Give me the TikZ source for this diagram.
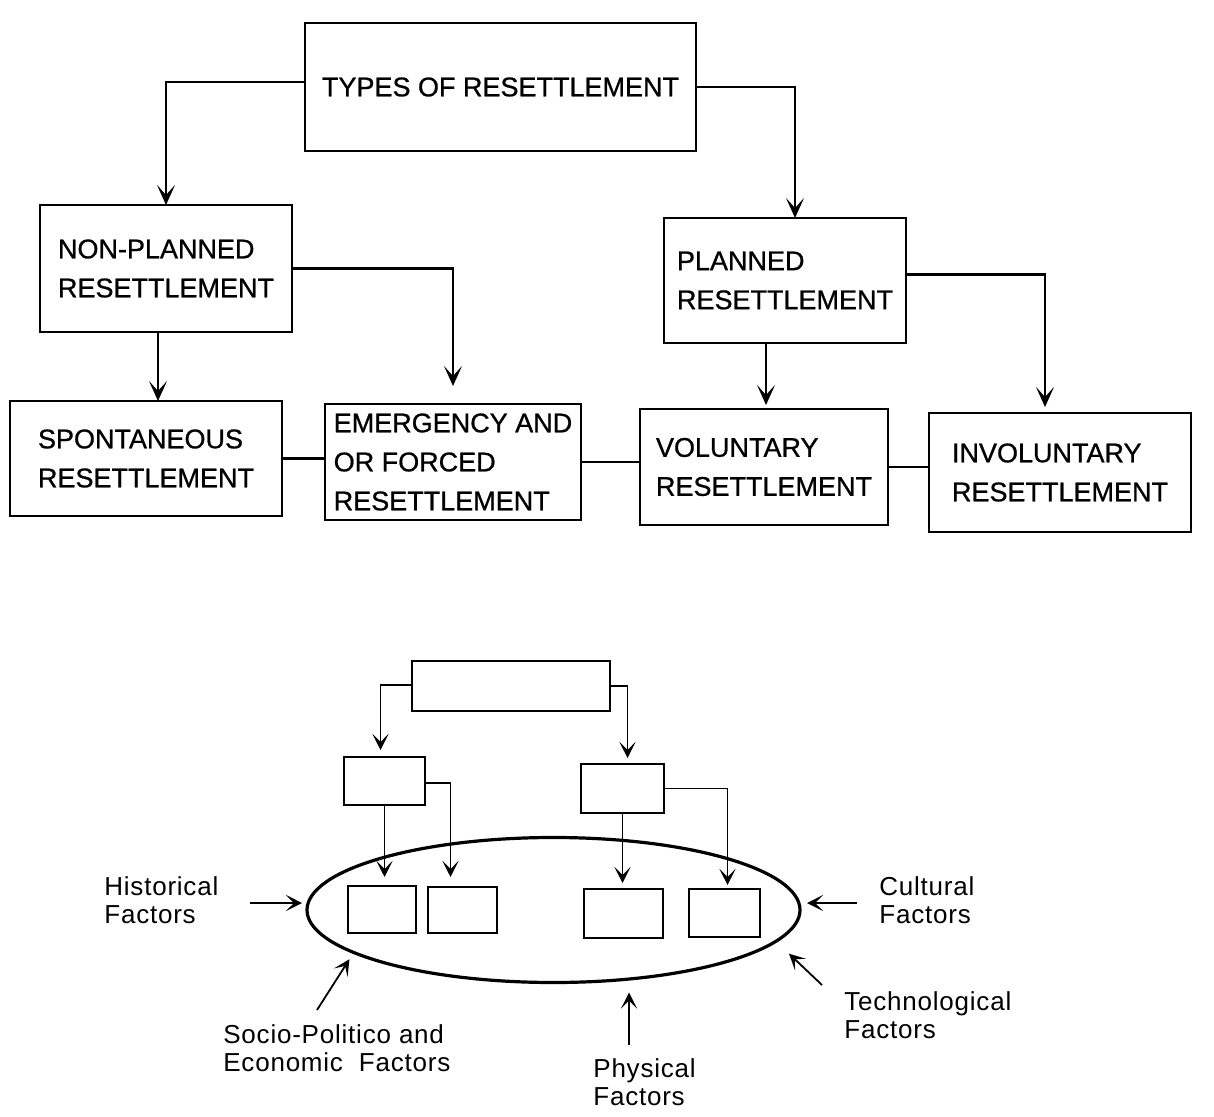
\documentclass[tikz,border=0pt]{standalone}
\usepackage{fontspec}
\usepackage{tikz}
\usetikzlibrary{arrows.meta,shapes.geometric,positioning}
\newfontfamily\capsfont[FakeBold=0.8]{Liberation Sans}
\newfontfamily\labelfont[LetterSpace=3]{Liberation Sans}

\tikzset{
  box/.style={draw,line width=1.2pt,inner sep=0pt,outer sep=0pt,align=left,
    font=\capsfont\fontsize{13.5pt}{19.5pt}\selectfont},
  blank/.style={draw,line width=1pt,inner sep=0pt,outer sep=0pt},
  factor/.style={inner sep=0pt,anchor=base west,align=left,
    font=\labelfont\fontsize{13pt}{14pt}\selectfont},
  arr/.style={line width=1.1pt,-{Stealth[length=10pt,width=9pt,inset=5pt]}},
  sarr/.style={line width=0.9pt,-{Stealth[length=8pt,width=8pt,inset=4pt]}}
}

\begin{document}
\begin{tikzpicture}[x=0.5pt,y=-0.5pt]
    \useasboundingbox (0,0) rectangle (1214,1117);
    % types of resettlement
    \node[box,minimum width=195.5pt,minimum height=64pt] (types)   at (500.5,87)  {TYPES OF RESETTLEMENT};
    \node[box,minimum width=126pt,minimum height=63.5pt] (nonplan) at (166,268.5) {NON-PLANNED\\RESETTLEMENT};
    \node[box,minimum width=121pt,minimum height=62.5pt] (plan)    at (785,280.5) {PLANNED\\RESETTLEMENT};
    \node[box,minimum width=136pt,minimum height=57.5pt] (spont)   at (146,458.5) {SPONTANEOUS\\RESETTLEMENT};
    \node[box,minimum width=128pt,minimum height=58pt]   (emerg)   at (453,462)   {EMERGENCY AND\\OR FORCED\\RESETTLEMENT};
    \node[box,minimum width=124pt,minimum height=58pt]   (volun)   at (764,467)   {VOLUNTARY\\RESETTLEMENT};
    \node[box,minimum width=131pt,minimum height=59.5pt] (invol)   at (1060,472.5){INVOLUNTARY\\RESETTLEMENT};

    \draw[arr] ([yshift=2.5pt]types.west) -| (nonplan.north);
    \draw[arr] (types.east) -| ([xshift=5pt]plan.north);
    \draw[arr,shorten >=9pt] (nonplan.east) -| (emerg.north);
    \draw[arr] ([xshift=-4pt]nonplan.south) -- ([xshift=-4pt]nonplan.south |- spont.north);
    \draw[arr,shorten >=2pt] ([xshift=-9.5pt]plan.south) -- ([xshift=-9.5pt]plan.south |- volun.north);
    \draw[arr,shorten >=3pt] ([yshift=3pt]plan.east) -| ([xshift=-7.5pt]invol.north);
    \draw[line width=1.2pt] (spont.east) -- (spont.east -| emerg.west);
    \draw[line width=1.2pt] (emerg.east) -- (emerg.east -| volun.west);
    \draw[line width=1.2pt] (volun.east) -- (volun.east -| invol.west);

    % factors model
    \node[blank,minimum width=99pt,minimum height=25pt]     (hub)  at (511,686)     {};
    \node[blank,minimum width=40.5pt,minimum height=24pt]   (b_1)  at (384.5,781)   {};
    \node[blank,minimum width=41.5pt,minimum height=24.5pt] (b_2)  at (622.5,788.5) {};
    \node[ellipse,draw,line width=1.6pt,inner sep=0pt,outer sep=0pt,
          minimum width=246.5pt,minimum height=72.5pt]       (ell)  at (553.5,910)   {};
    \node[blank,minimum width=34pt,minimum height=23.5pt]   (c_1)  at (382,909.5)   {};
    \node[blank,minimum width=34.5pt,minimum height=23pt]   (c_2)  at (462.5,910)   {};
    \node[blank,minimum width=39.5pt,minimum height=24.5pt] (c_3)  at (623.5,913.5) {};
    \node[blank,minimum width=35.5pt,minimum height=24pt]   (c_4)  at (724.5,913)   {};

    \draw[sarr,shorten >=3.5pt] ([yshift=0.5pt]hub.west) -| ([xshift=-2pt]b_1.north);
    \draw[sarr,shorten >=3pt] (hub.east) -| ([xshift=2.5pt]b_2.north);
    \draw[sarr,shorten >=4.5pt] (b_1.south) -- (b_1.south |- c_1.north);
    \draw[sarr,shorten >=5pt] ([yshift=-1pt]b_1.east) -| ([xshift=-6pt]c_2.north);
    \draw[sarr,shorten >=3pt] (b_2.south) -- (b_2.south |- c_3.north);
    \draw[sarr,shorten >=2pt] (b_2.east) -| ([xshift=1.5pt]c_4.north);

    \node[factor] (hist)  at (104,923)  {Historical\\Factors};
    \node[factor] (cult)  at (879,923)  {Cultural\\Factors};
    \node[factor] (tech)  at (844,1038) {Technological\\Factors};
    \node[factor] (phys)  at (593,1105) {Physical\\Factors};
    \node[factor] (socio) at (223,1071) {Socio-Politico and\\Economic\ \ Factors};

    \coordinate (histtail)  at (250,903);
    \coordinate (culttail)  at (857,903);
    \coordinate (techtail)  at (822,985);
    \coordinate (phystail)  at (629,1045);
    \coordinate (sociotail) at (317,1010);
    \draw[sarr,shorten >=2.5pt] (histtail) -- (histtail -| ell.west);
    \draw[sarr,shorten >=3.5pt] (culttail) -- (culttail -| ell.east);
    \draw[sarr,shorten >=9pt]   (techtail) -- (ell.-8);
    \draw[sarr,shorten >=5pt]   (phystail) -- (phystail |- ell.south);
    \draw[sarr,shorten >=4pt]   (sociotail) -- (ell.-168);
\end{tikzpicture}
\end{document}
